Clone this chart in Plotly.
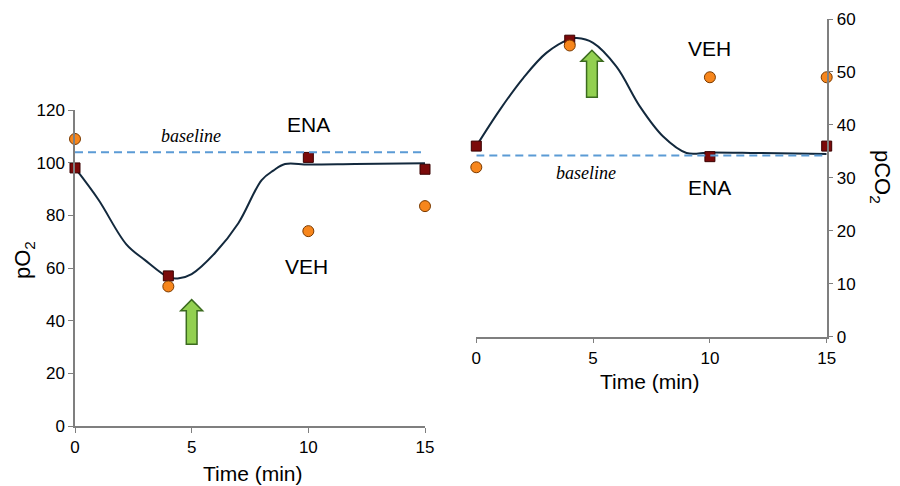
import plotly.graph_objects as go

# ---------------- data ----------------
time_points = [0, 4, 10, 15]

# pO2 panel
po2_ena = [98, 57, 102, 97.5]
po2_veh = [109, 53, 74, 83.5]
po2_baseline = 104
po2_fit_t = [0, 1, 2.2, 3, 4, 4.4, 5, 6, 7, 8, 8.5, 9, 10, 12, 15]
po2_fit_y = [98, 86, 69, 63, 56.5, 56, 57.7, 65.7, 77, 93.4, 97, 99.5, 99.3, 99.5, 99.8]

# pCO2 panel
pco2_ena = [36, 56, 34, 36]
pco2_veh = [32, 55, 49, 49]
pco2_baseline = 34.2
pco2_fit_t = [0, 1, 2, 3, 4, 4.3, 5, 6, 7, 8, 9, 10, 12, 15]
pco2_fit_y = [36, 42.8, 48.8, 53.6, 56.2, 56.4, 55.5, 51, 43.5, 37.8, 34.7, 34.8, 34.7, 34.5]

x_ticks = [0, 5, 10, 15]
po2_ticks = [0, 20, 40, 60, 80, 100, 120]
pco2_ticks = [0, 10, 20, 30, 40, 50, 60]

# ---------------- styles ----------------
FONT = "Liberation Sans, Arial, sans-serif"
AXIS_COLOR = "#7f7f7f"
CURVE_COLOR = "#13293d"
BASE_COLOR = "#5b9bd5"
ENA_COLOR = "#7b0a0a"
VEH_COLOR = "#f7861c"

fig = go.Figure()


def add_panel(xa, ya, ena, veh, fit_t, fit_y):
    fig.add_trace(go.Scatter(x=fit_t, y=fit_y, mode="lines",
                             line=dict(color=CURVE_COLOR, width=2, shape="spline", smoothing=1),
                             xaxis=xa, yaxis=ya, showlegend=False, hoverinfo="skip"))
    fig.add_trace(go.Scatter(x=time_points, y=ena, mode="markers",
                             marker=dict(symbol="square", size=10, color=ENA_COLOR,
                                         line=dict(color="#3a0000", width=1)),
                             xaxis=xa, yaxis=ya, showlegend=False, cliponaxis=False))
    fig.add_trace(go.Scatter(x=time_points, y=veh, mode="markers",
                             marker=dict(symbol="circle", size=11, color=VEH_COLOR,
                                         line=dict(color="#7a3a00", width=1)),
                             xaxis=xa, yaxis=ya, showlegend=False, cliponaxis=False))


add_panel("x", "y", po2_ena, po2_veh, po2_fit_t, po2_fit_y)
add_panel("x2", "y2", pco2_ena, pco2_veh, pco2_fit_t, pco2_fit_y)

# baselines (dashed)
shapes = [
    dict(type="line", xref="x", yref="y", x0=0, x1=15.3, y0=po2_baseline, y1=po2_baseline,
         line=dict(color=BASE_COLOR, width=2, dash="8px,5px")),
    dict(type="line", xref="x2", yref="y2", x0=0, x1=15.1, y0=pco2_baseline, y1=pco2_baseline,
         line=dict(color=BASE_COLOR, width=2, dash="8px,5px")),
]


def block_arrow(xref, yref, xc, y0, y1, shaft_half, head_half, head_h):
    yh = y1 - head_h
    path = (f"M {xc - shaft_half},{y0} L {xc + shaft_half},{y0} L {xc + shaft_half},{yh} "
            f"L {xc + head_half},{yh} L {xc},{y1} L {xc - head_half},{yh} "
            f"L {xc - shaft_half},{yh} Z")
    return dict(type="path", xref=xref, yref=yref, path=path,
                fillcolor="#92d050", line=dict(color="#3b6b1f", width=1.5))


shapes.append(block_arrow("x", "y", 5, 31, 48, 0.23, 0.47, 4.2))
shapes.append(block_arrow("x2", "y2", 4.95, 45.2, 54.1, 0.23, 0.47, 2.1))

TICKFONT = dict(family=FONT, size=17, color="#000000")


def axis(**kw):
    d = dict(showgrid=False, zeroline=False, showline=True, linecolor=AXIS_COLOR,
             linewidth=1.5, ticks="outside", tickcolor=AXIS_COLOR, ticklen=5,
             tickwidth=1.2, automargin=False, tickfont=dict(TICKFONT))
    d.update(kw)
    return d


fig.update_layout(
    template="none",
    width=900, height=486, autosize=False,
    font=dict(family=FONT, size=17, color="#000000"),
    margin=dict(l=0, r=0, t=0, b=0, pad=0, autoexpand=False),
    paper_bgcolor="white", plot_bgcolor="rgba(0,0,0,0)",
    showlegend=False,
    xaxis=axis(domain=[75 / 900, 425 / 900], range=[0, 15], tickvals=x_ticks, anchor="y"),
    yaxis=axis(domain=[1 - 426 / 486, 1 - 110 / 486], range=[0, 120], tickvals=po2_ticks,
               anchor="x"),
    xaxis2=axis(domain=[476.3 / 900, 826.7 / 900], range=[0, 15], tickvals=x_ticks,
                anchor="y2"),
    yaxis2=axis(domain=[1 - 336.7 / 486, 1 - 19 / 486], range=[0, 60], tickvals=pco2_ticks,
                anchor="x2", side="right"),
    shapes=shapes,
)

big = dict(family=FONT, size=21, color="#000")
base_font = dict(family="Liberation Serif, serif", size=18, color="#000", style="italic")
title_font = dict(family=FONT, size=21, color="#000")
annotations = [
    dict(x=10, y=114.5, xref="x", yref="y", text="ENA", showarrow=False, font=big),
    dict(x=9.9, y=60.7, xref="x", yref="y", text="VEH", showarrow=False, font=big),
    dict(x=4.96, y=110, xref="x", yref="y", text="baseline", showarrow=False, font=base_font),
    dict(x=10, y=54.5, xref="x2", yref="y2", text="VEH", showarrow=False, font=big),
    dict(x=10, y=28.2, xref="x2", yref="y2", text="ENA", showarrow=False, font=big),
    dict(x=4.7, y=30.9, xref="x2", yref="y2", text="baseline", showarrow=False, font=base_font),
    # axis titles
    dict(x=253 / 900, y=1 - 473 / 486, xref="paper", yref="paper", text="Time (min)",
         xanchor="center", yanchor="middle", showarrow=False, font=title_font),
    dict(x=650 / 900, y=1 - 381.7 / 486, xref="paper", yref="paper", text="Time (min)",
         xanchor="center", yanchor="middle", showarrow=False, font=title_font),
    dict(x=24 / 900, y=1 - 260 / 486, xref="paper", yref="paper", text="pO<sub>2</sub>",
         xanchor="center", yanchor="middle", textangle=-90, showarrow=False,
         font=dict(family=FONT, size=22, color="#000")),
    dict(x=881 / 900, y=1 - 177 / 486, xref="paper", yref="paper", text="pCO<sub>2</sub>",
         xanchor="center", yanchor="middle", textangle=90, showarrow=False,
         font=dict(family=FONT, size=22, color="#000")),
]
fig.update_layout(annotations=annotations)

fig.write_html("out.html",
               config={"displayModeBar": False},
               post_script="document.body.style.margin='0px';document.body.style.overflow='hidden';")
